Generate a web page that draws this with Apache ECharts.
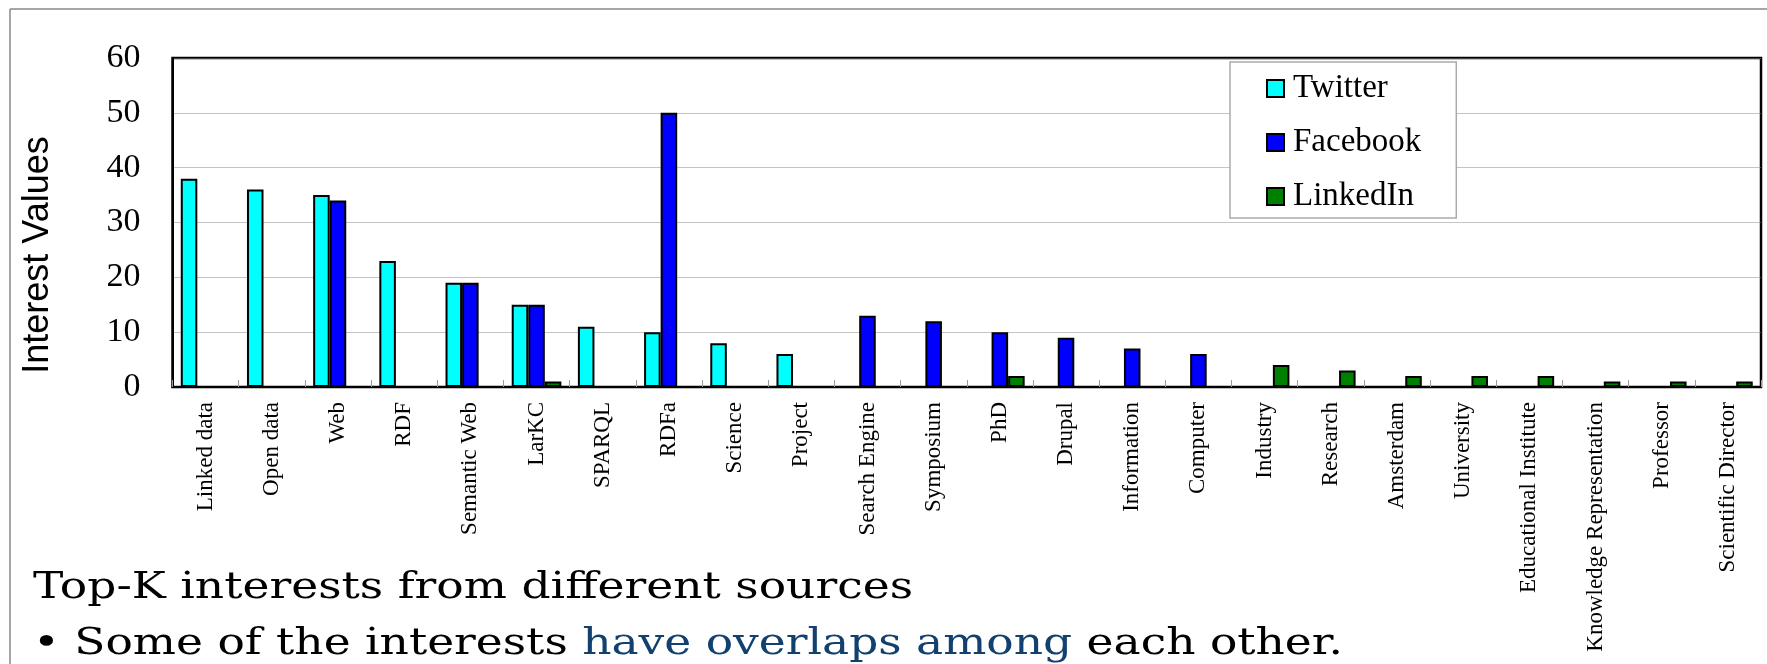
<!DOCTYPE html>
<html>
<head>
<meta charset="utf-8">
<script src="https://cdn.jsdelivr.net/npm/echarts@6/dist/echarts.min.js"></script>
<style>
html,body{margin:0;padding:0;background:#fff;}
#chart{width:1767px;height:664px;}
</style>
</head>
<body>
<div id="chart"></div>
<script>
const categories = ['Linked data','Open data','Web','RDF','Semantic Web','LarKC','SPARQL','RDFa','Science','Project','Search Engine','Symposium','PhD','Drupal','Information','Computer','Industry','Research','Amsterdam','University','Educational Institute','Knowledge Representation','Professor','Scientific Director'];
const twitter  = [38,36,35,23,19,15,11,10,8,6,0,0,0,0,0,0,0,0,0,0,0,0,0,0];
const facebook = [0,0,34,0,19,15,0,50,0,0,13,12,10,9,7,6,0,0,0,0,0,0,0,0];
const linkedin = [0,0,0,0,0,1,0,0,0,0,0,0,2,0,0,0,4,3,2,2,2,1,1,1];
const seriesNames = ['Twitter','Facebook','LinkedIn'];
const yTicks = [0,10,20,30,40,50,60];
const yTitle = 'Interest Values';
const caption1 = 'Top-K interests from different sources';
const caption2a = '\u2022 Some of the interests ';
const caption2b = 'have overlaps among';
const caption2c = ' each other.';

const colors = ['#00FFFF','#0000FF','#008000'];
const toBars = arr => arr.map(v => v === 0 ? null : v);

function measure(text, font){
  const c = document.createElement('canvas').getContext('2d');
  c.font = font;
  return c.measureText(text).width;
}
const capFont = '37px "DejaVu Serif"';
const w1 = measure(caption1, capFont);
const w2 = measure(caption2a + caption2b + caption2c, capFont);
const sx1 = 880 / w1;
const sx2 = 1310 / w2;

const chart = echarts.init(document.getElementById('chart'), null, {renderer:'canvas'});
const barBase = {
  type:'bar', barGap:'0%', barCategoryGap:'25%',
  itemStyle:{borderColor:'#000', borderWidth:2},
  emphasis:{disabled:true}
};
chart.setOption({
  animation:false,
  backgroundColor:'#fff',
  grid:{left:172.5, right:6, top:58, bottom:277, show:true, borderColor:'#000', borderWidth:2.5, containLabel:false},
  legend:{
    orient:'vertical', left:1230, top:62, width:225,
    data:seriesNames,
    backgroundColor:'#fff', borderColor:'#aaa', borderWidth:1.5,
    padding:[8,35,3,36], itemGap:17, itemWidth:17, itemHeight:17,
    icon:'rect',
    itemStyle:{borderColor:'#000', borderWidth:2},
    textStyle:{fontFamily:'Liberation Serif', fontSize:33, color:'#000', lineHeight:37, padding:[0,0,0,4]}
  },
  xAxis:{
    type:'category', data:categories, boundaryGap:true,
    axisLine:{show:true, lineStyle:{color:'#000', width:2}},
    axisTick:{show:true, inside:true, length:7, lineStyle:{color:'#999', width:1}},
    axisLabel:{interval:0, rotate:90, margin:15, fontFamily:'Liberation Serif', fontSize:23, color:'#000'},
    splitLine:{show:false}
  },
  yAxis:{
    type:'value', min:yTicks[0], max:yTicks[yTicks.length-1], interval:10,
    axisLine:{show:true, lineStyle:{color:'#000', width:2}},
    axisTick:{show:false},
    axisLabel:{margin:32, fontFamily:'Liberation Serif', fontSize:34, color:'#000'},
    splitLine:{show:true, lineStyle:{color:'#888', type:'dotted', width:1}}
  },
  series:[
    Object.assign({}, barBase, {name:seriesNames[0], data:toBars(twitter), itemStyle:{color:colors[0], borderColor:'#000', borderWidth:2}}),
    Object.assign({}, barBase, {name:seriesNames[1], data:toBars(facebook), itemStyle:{color:colors[1], borderColor:'#000', borderWidth:2}}),
    Object.assign({}, barBase, {name:seriesNames[2], data:toBars(linkedin), itemStyle:{color:colors[2], borderColor:'#000', borderWidth:2}})
  ],
  graphic:[
    {type:'line', silent:true, shape:{x1:10, y1:9, x2:1767, y2:9}, style:{stroke:'#888', lineWidth:1.5}},
    {type:'line', silent:true, shape:{x1:10, y1:9, x2:10, y2:664}, style:{stroke:'#888', lineWidth:1.5}},
    {type:'text', silent:true, x:38.5, y:255, rotation:Math.PI/2,
      style:{text:yTitle, fontFamily:'Liberation Sans', fontSize:36, fill:'#000', align:'center', verticalAlign:'middle'}},
    {type:'text', silent:true, x:33, y:588, scaleX:sx1, scaleY:1,
      style:{text:caption1, font:capFont, fill:'#000', align:'left', verticalAlign:'middle'}},
    {type:'text', silent:true, x:33, y:644, scaleX:sx2, scaleY:1,
      style:{text:'{a|'+caption2a+'}{b|'+caption2b+'}{a|'+caption2c+'}', font:capFont, fill:'#000', align:'left', verticalAlign:'middle',
        rich:{a:{fontFamily:'DejaVu Serif', fontSize:37, fill:'#000'}, b:{fontFamily:'DejaVu Serif', fontSize:37, fill:'#12406F'}}}}
  ]
});
</script>
</body>
</html>
